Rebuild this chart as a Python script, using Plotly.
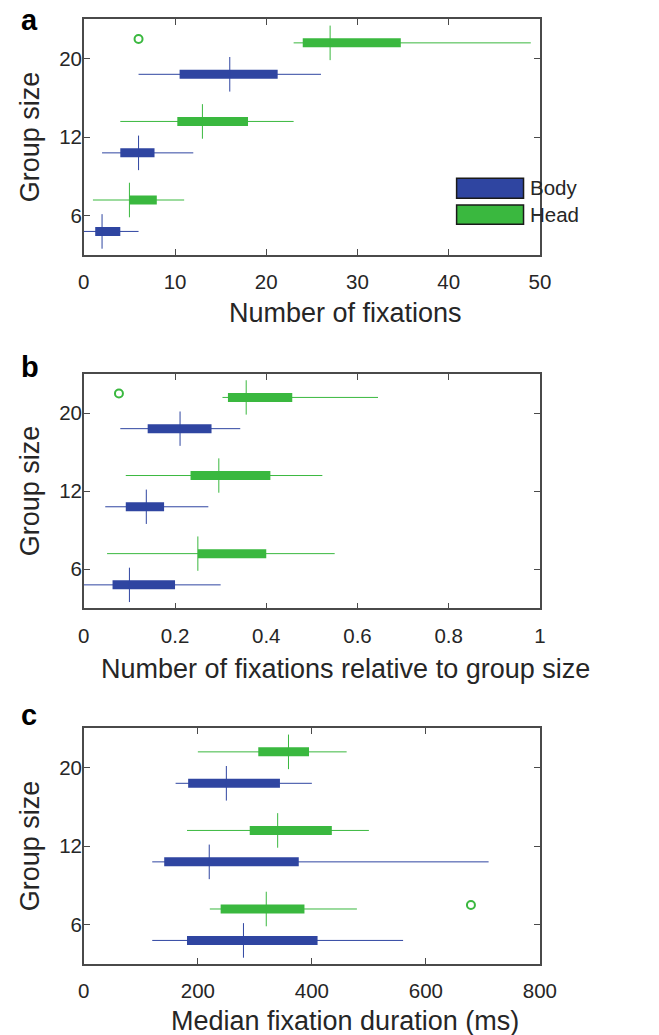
import plotly.graph_objects as go

# ---------------- data ----------------
groups = ["6", "12", "20"]

# each row: [whisker min, q1, median, q3, whisker max] for groups 6, 12, 20
a_body = [[0, 1.25, 2, 4, 6], [2, 4, 6, 7.75, 12], [6, 10.5, 16, 21.25, 26]]
a_head = [[1, 5, 5, 8, 11], [4, 10.25, 13, 18, 23], [23, 24, 27, 34.75, 49]]
a_head_out = [[], [], [6]]
a_body_out = [[], [], []]

b_body = [[0, 0.063, 0.10, 0.20, 0.30], [0.047, 0.092, 0.137, 0.176, 0.273],
          [0.080, 0.140, 0.211, 0.280, 0.343]]
b_head = [[0.051, 0.25, 0.25, 0.40, 0.55], [0.092, 0.234, 0.296, 0.409, 0.523],
          [0.304, 0.316, 0.356, 0.457, 0.645]]
b_head_out = [[], [], [0.077]]
b_body_out = [[], [], []]

c_body = [[120, 181, 280, 410, 560], [120, 141, 220, 377, 710],
          [161, 183, 250, 344, 400]]
c_head = [[221, 240, 320, 387, 479], [181, 291, 340, 435, 500],
          [200, 306, 359, 395, 461]]
c_head_out = [[679], [], []]
c_body_out = [[], [], []]

x_titles = ["Number of fixations", "Number of fixations relative to group size",
            "Median fixation duration (ms)"]
y_title = "Group size"
x_ranges = [[0, 50], [0, 1], [0, 800]]
x_ticks = [[0, 10, 20, 30, 40, 50], [0, 0.2, 0.4, 0.6, 0.8, 1],
           [0, 200, 400, 600, 800]]
panel_letters = ["a", "b", "c"]
series_names = ["Body", "Head"]

# ---------------- style ----------------
BLUE = "#2F45A1"
GREEN = "#3AB83F"
AXC = "#4a4a4a"
TXT = "#262626"
FONT = "Liberation Sans"
W, H = 644, 1035

def px(x):
    return x / W

def py(y):
    return 1 - y / H

plot_left, plot_right = 80.7, 553.7
panel_tb = [(19.3, 255.0), (374.0, 608.3), (728.3, 964.0)]
xtitle_y = [312.5, 669.0, 1021.0]
letter_y = [20.0, 366.7, 715.0]
OFFSET = 0.2
MED_HALF = 0.22
TICK_FS = 20.5
TITLE_FS = 27

fig = go.Figure()

panels = [
    (a_body, a_head, a_body_out, a_head_out),
    (b_body, b_head, b_body_out, b_head_out),
    (c_body, c_head, c_body_out, c_head_out),
]

for p, (body, head, body_out, head_out) in enumerate(panels):
    xa = "x" if p == 0 else f"x{p+1}"
    ya = "y" if p == 0 else f"y{p+1}"
    for stats, outs, color, off in [(body, body_out, BLUE, -OFFSET),
                                    (head, head_out, GREEN, OFFSET)]:
        for g, s in enumerate(stats):
            yc = g + 1 + off
            mn, q1, med, q3, mx = s
            fig.add_trace(go.Scatter(x=[mn, mx], y=[yc, yc], mode="lines",
                                     line=dict(color=color, width=1),
                                     xaxis=xa, yaxis=ya, hoverinfo="skip"))
            fig.add_trace(go.Scatter(x=[q1, q3], y=[yc, yc], mode="lines",
                                     line=dict(color=color, width=9),
                                     xaxis=xa, yaxis=ya, hoverinfo="skip"))
            fig.add_trace(go.Scatter(x=[med, med], y=[yc - MED_HALF, yc + MED_HALF],
                                     mode="lines", line=dict(color=color, width=1),
                                     xaxis=xa, yaxis=ya, hoverinfo="skip"))
            if outs[g]:
                fig.add_trace(go.Scatter(x=outs[g], y=[yc + 0.05] * len(outs[g]),
                                         mode="markers",
                                         marker=dict(symbol="circle-open", size=8,
                                                     color=color, line=dict(width=2)),
                                         xaxis=xa, yaxis=ya, hoverinfo="skip"))

layout = dict(width=W, height=H, margin=dict(l=0, r=0, t=0, b=0),
              plot_bgcolor="white", paper_bgcolor="white", showlegend=False,
              font=dict(family=FONT, color=TXT))

annotations = []
shapes = []
for p in range(3):
    top, bot = panel_tb[p]
    xk = "xaxis" if p == 0 else f"xaxis{p+1}"
    yk = "yaxis" if p == 0 else f"yaxis{p+1}"
    xa = "x" if p == 0 else f"x{p+1}"
    ya = "y" if p == 0 else f"y{p+1}"
    layout[xk] = dict(domain=[px(plot_left), px(plot_right)], anchor=ya,
                      range=x_ranges[p], tickvals=x_ticks[p],
                      ticktext=[f"{v:g}" for v in x_ticks[p]],
                      ticks="inside", ticklen=6, tickcolor=AXC, tickwidth=1,
                      showline=True, linecolor=AXC, linewidth=1.5, mirror="ticks",
                      showgrid=False, zeroline=False, ticklabelstandoff=8,
                      tickfont=dict(size=TICK_FS, color=TXT, family=FONT))
    layout[yk] = dict(domain=[py(bot), py(top)], anchor=xa,
                      range=[0.5, 3.5], tickvals=[1, 2, 3], ticktext=groups,
                      ticks="inside", ticklen=6, tickcolor=AXC, tickwidth=1,
                      showline=True, linecolor=AXC, linewidth=1.5, mirror="ticks",
                      showgrid=False, zeroline=False, ticklabelstandoff=-4,
                      tickfont=dict(size=TICK_FS, color=TXT, family=FONT))
    annotations.append(dict(text=x_titles[p], x=px(352), y=py(xtitle_y[p]),
                            xref="paper", yref="paper", xanchor="center", yanchor="middle",
                            showarrow=False, font=dict(size=TITLE_FS, color=TXT, family=FONT)))
    annotations.append(dict(text=y_title, x=px(25), y=py((top + bot) / 2), textangle=-90,
                            xref="paper", yref="paper", xanchor="center", yanchor="middle",
                            showarrow=False, font=dict(size=TITLE_FS, color=TXT, family=FONT)))
    annotations.append(dict(text=f"<b>{panel_letters[p]}</b>", x=px(13), y=py(letter_y[p]),
                            xref="paper", yref="paper", xanchor="left", yanchor="middle",
                            showarrow=False, font=dict(size=29, color="#000", family=FONT)))

# legend in panel a
leg = [(178.3, 198.3, BLUE, series_names[0]), (205.0, 224.3, GREEN, series_names[1])]
for y0, y1, col, name in leg:
    shapes.append(dict(type="rect", xref="paper", yref="paper",
                       x0=px(467.3), x1=px(536.7), y0=py(y1), y1=py(y0),
                       fillcolor=col, line=dict(color="#1a1a1a", width=1.5)))
    annotations.append(dict(text=name, x=px(541), y=py((y0 + y1) / 2 - 0.5), xref="paper",
                            yref="paper", xanchor="left", yanchor="middle", showarrow=False,
                            font=dict(size=TICK_FS, color=TXT, family=FONT)))

layout["annotations"] = annotations
layout["shapes"] = shapes
fig.update_layout(**layout)

fig.write_html("out.html")
